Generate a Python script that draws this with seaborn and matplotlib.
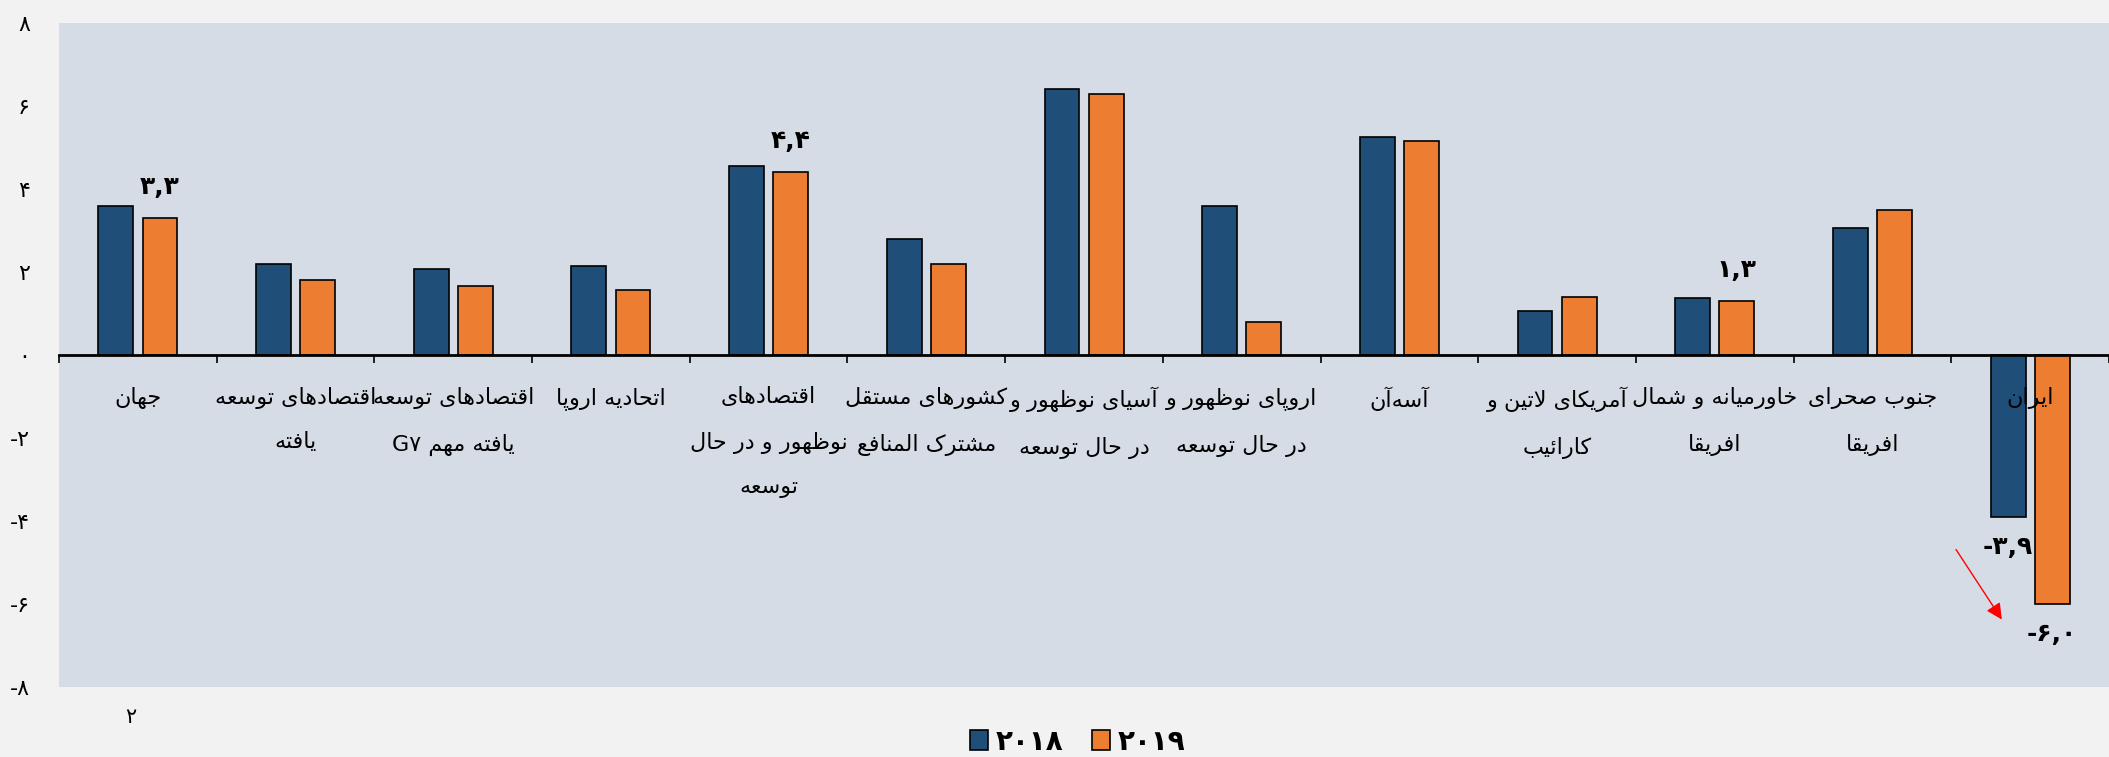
import numpy as np
import pandas as pd
import matplotlib
matplotlib.use("Agg")
import matplotlib.pyplot as plt
import seaborn as sns

# ---------------- data ----------------
regions = [
    "جهان",
    "اقتصادهای توسعه\nیافته",
    "اقتصادهای توسعه\nیافته مهم G۷",
    "اتحادیه اروپا",
    "اقتصادهای\nنوظهور و در حال\nتوسعه",
    "کشورهای مستقل\nمشترک المنافع",
    "آسیای نوظهور و\nدر حال توسعه",
    "اروپای نوظهور و\nدر حال توسعه",
    "آسه\u200cآن",
    "آمریکای لاتین و\nکارائیب",
    "خاورمیانه و شمال\nافریقا",
    "جنوب صحرای\nافریقا",
    "ایران",
]
values_2018 = [3.6, 2.2, 2.07, 2.14, 4.55, 2.8, 6.4, 3.6, 5.25, 1.05, 1.37, 3.05, -3.9]
values_2019 = [3.3, 1.8, 1.66, 1.57, 4.4, 2.2, 6.3, 0.8, 5.15, 1.4, 1.3, 3.5, -6.0]
years = ["۲۰۱۸", "۲۰۱۹"]
y_ticks = [-8, -6, -4, -2, 0, 2, 4, 6, 8]
y_tick_labels = ["-۸", "-۶", "-۴", "-۲", "۰", "۲", "۴", "۶", "۸"]
# (category index, year, label text)
value_labels = [
    (0, "۲۰۱۹", "۳,۳"),
    (4, "۲۰۱۹", "۴,۴"),
    (10, "۲۰۱۹", "۱,۳"),
    (12, "۲۰۱۸", "-۳,۹"),
    (12, "۲۰۱۹", "-۶,۰"),
]
footnote = "۲"

# ------------- simple Arabic/Persian shaping for matplotlib -------------
DUAL = {
    "ب": "\uFE8F\uFE90\uFE91\uFE92", "پ": "\uFB56\uFB57\uFB58\uFB59",
    "ت": "\uFE95\uFE96\uFE97\uFE98", "ث": "\uFE99\uFE9A\uFE9B\uFE9C",
    "ج": "\uFE9D\uFE9E\uFE9F\uFEA0", "چ": "\uFB7A\uFB7B\uFB7C\uFB7D",
    "ح": "\uFEA1\uFEA2\uFEA3\uFEA4", "خ": "\uFEA5\uFEA6\uFEA7\uFEA8",
    "س": "\uFEB1\uFEB2\uFEB3\uFEB4", "ش": "\uFEB5\uFEB6\uFEB7\uFEB8",
    "ص": "\uFEB9\uFEBA\uFEBB\uFEBC", "ض": "\uFEBD\uFEBE\uFEBF\uFEC0",
    "ط": "\uFEC1\uFEC2\uFEC3\uFEC4", "ظ": "\uFEC5\uFEC6\uFEC7\uFEC8",
    "ع": "\uFEC9\uFECA\uFECB\uFECC", "غ": "\uFECD\uFECE\uFECF\uFED0",
    "ف": "\uFED1\uFED2\uFED3\uFED4", "ق": "\uFED5\uFED6\uFED7\uFED8",
    "ک": "\uFB8E\uFB8F\uFB90\uFB91", "گ": "\uFB92\uFB93\uFB94\uFB95",
    "ل": "\uFEDD\uFEDE\uFEDF\uFEE0", "م": "\uFEE1\uFEE2\uFEE3\uFEE4",
    "ن": "\uFEE5\uFEE6\uFEE7\uFEE8", "ه": "\uFEE9\uFEEA\uFEEB\uFEEC",
    "ی": "\uFBFC\uFBFD\uFBFE\uFBFF", "ئ": "\uFE89\uFE8A\uFE8B\uFE8C",
}
RIGHT = {
    "ا": "\uFE8D\uFE8E", "آ": "\uFE81\uFE82", "د": "\uFEA9\uFEAA",
    "ذ": "\uFEAB\uFEAC", "ر": "\uFEAD\uFEAE", "ز": "\uFEAF\uFEB0",
    "ژ": "\uFB8A\uFB8B", "و": "\uFEED\uFEEE",
}
LAMALEF = {"ا": "\uFEFB\uFEFC", "آ": "\uFEF5\uFEF6"}


def shape_word(w):
    out = []
    i = 0
    n = len(w)
    while i < n:
        c = w[i]
        prev = w[i - 1] if i > 0 else ""
        nxt = w[i + 1] if i + 1 < n else ""
        jp = prev in DUAL and (c in DUAL or c in RIGHT)
        if c == "ل" and nxt in LAMALEF:
            out.append(LAMALEF[nxt][1 if jp else 0])
            i += 2
            continue
        if c in DUAL:
            jn = nxt in DUAL or nxt in RIGHT
            idx = (3 if jn else 1) if jp else (2 if jn else 0)
            out.append(DUAL[c][idx])
        elif c in RIGHT:
            out.append(RIGHT[c][1 if jp else 0])
        elif c == "\u200c":
            pass
        else:
            out.append(c)
        i += 1
    return "".join(out)


def is_rtl(w):
    return any(ch in DUAL or ch in RIGHT for ch in w)


def visual(text):
    lines = []
    for line in text.split("\n"):
        words = line.split(" ")
        shaped = [shape_word(w)[::-1] if is_rtl(w) else w for w in words]
        lines.append(" ".join(reversed(shaped)))
    return "\n".join(lines)


# ---------------- plot ----------------
plt.rcParams["font.family"] = ["DejaVu Sans"]

df = pd.DataFrame({
    "region": regions * 2,
    "value": values_2018 + values_2019,
    "year": [years[0]] * len(regions) + [years[1]] * len(regions),
})

fig = plt.figure(figsize=(21.09, 7.57), dpi=100, facecolor="#F2F2F2")
ax = fig.add_axes([0.028, 0.0925, 0.972, 0.877])
ax.set_facecolor("#D6DCE5")

sns.barplot(data=df, x="region", y="value", hue="year", order=regions,
            hue_order=years, palette=["#1F4E79", "#ED7D31"], saturation=1,
            width=0.56, gap=0.21, edgecolor="black", linewidth=1.2,
            errorbar=None, ax=ax)

ax.set_xlim(-0.5, len(regions) - 0.5)
ax.set_ylim(-8, 8)
ax.set_xlabel("")
ax.set_ylabel("")

for s in ["top", "right", "left"]:
    ax.spines[s].set_visible(False)
ax.spines["bottom"].set_position(("data", 0))
ax.spines["bottom"].set_linewidth(2)
ax.spines["bottom"].set_color("black")

ax.set_yticks(y_ticks, y_tick_labels)
ax.tick_params(axis="y", length=0, pad=21, labelsize=16)

ax.set_xticks(range(len(regions)), [visual(r) for r in regions])
ax.tick_params(axis="x", which="major", length=0, pad=23, labelsize=16)
for lab in ax.get_xticklabels():
    lab.set_linespacing(2.45)
    lab.set_multialignment("center")
ax.set_xticks(np.arange(-0.5, len(regions), 1), minor=True)
ax.tick_params(axis="x", which="minor", length=6, width=1.2, color="black",
               direction="out")

# value labels
for i, yr, txt in value_labels:
    bar = ax.containers[years.index(yr)][i]
    x = bar.get_x() + bar.get_width() / 2
    y = bar.get_y() + bar.get_height()
    if y >= 0:
        ax.annotate(txt, (x, y), xytext=(0, 14), textcoords="offset points",
                    ha="center", va="bottom", fontsize=18, fontweight="bold")
    else:
        ax.annotate(txt, (x, y), xytext=(0, -13), textcoords="offset points",
                    ha="center", va="top", fontsize=18, fontweight="bold")

# red arrow annotation
ax.annotate("", xy=(11.83, -6.43), xytext=(11.52, -4.63),
            arrowprops=dict(arrowstyle="-|>", color="red", lw=1,
                            mutation_scale=24))

# legend
handles, labels = ax.get_legend_handles_labels()
if ax.get_legend() is not None:
    ax.get_legend().remove()
fig.legend(handles, labels, loc="center", bbox_to_anchor=(0.511, 0.02),
           ncol=2, frameon=False, prop={"weight": "bold", "size": 20},
           handlelength=0.65, handleheight=0.7, handletextpad=0.3,
           columnspacing=1.0)

fig.text(0.062, 0.053, footnote, ha="center", va="center", fontsize=15)

fig.savefig("out.png", dpi=100, facecolor=fig.get_facecolor())
